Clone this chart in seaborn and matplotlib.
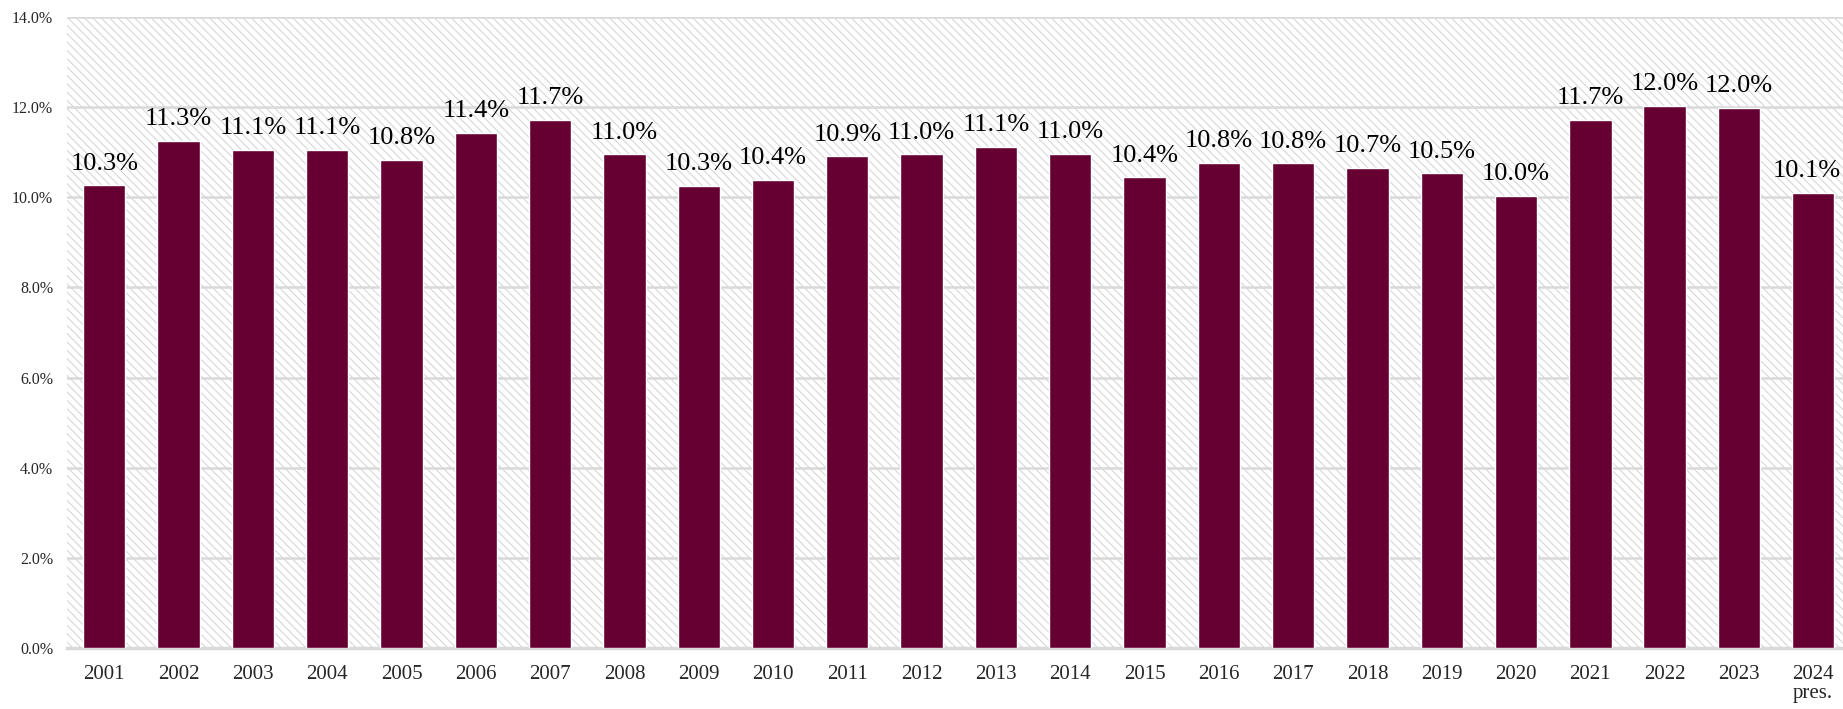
import matplotlib
matplotlib.use("Agg")
import matplotlib.pyplot as plt
import seaborn as sns
from matplotlib.patches import Rectangle
from matplotlib.ticker import FuncFormatter

# --- Datos ---
anios = ["2001", "2002", "2003", "2004", "2005", "2006", "2007", "2008",
         "2009", "2010", "2011", "2012", "2013", "2014", "2015", "2016",
         "2017", "2018", "2019", "2020", "2021", "2022", "2023", "2024\npres."]
valores = [10.27, 11.26, 11.06, 11.06, 10.83, 11.43, 11.72, 10.96,
           10.26, 10.39, 10.91, 10.96, 11.12, 10.97, 10.44, 10.77,
           10.76, 10.66, 10.53, 10.04, 11.72, 12.03, 11.99, 10.10]
ticks_y = [0, 2, 4, 6, 8, 10, 12, 14]

COLOR_BARRA = "#660033"
COLOR_GRID = "#d9d9d9"

sns.set_style("white")
plt.rcParams["font.family"] = ["Liberation Serif", "DejaVu Serif"]
plt.rcParams["hatch.linewidth"] = 0.7

fig = plt.figure(figsize=(18.43, 7.09), dpi=100)
ax = fig.add_axes([0.0364, 0.086, 0.9636, 0.890])

# fondo rayado
fondo = Rectangle((0, 0), 1, 1, transform=ax.transAxes, facecolor="white",
                  edgecolor="#d2d2d2", hatch="\\\\\\\\", linewidth=0, zorder=0)
ax.add_patch(fondo)

sns.barplot(x=anios, y=valores, color=COLOR_BARRA, saturation=1, width=0.57,
            ax=ax, zorder=3)

for i, v in enumerate(valores):
    # la ultima etiqueta se corre un poco para que no se corte en el borde
    dx = -5 if i == len(valores) - 1 else 0
    ax.annotate(f"{v:.1f}%", (i, v), xytext=(dx, 7.5), textcoords="offset points",
                ha="center", va="bottom", fontsize=19, color="black", zorder=4)

ax.set_ylim(0, 14)
ax.set_xlim(-0.5, 23.4)
ax.set_yticks(ticks_y)
ax.yaxis.set_major_formatter(FuncFormatter(lambda y, _: f"{y:.1f}%"))
ax.grid(axis="y", color=COLOR_GRID, linewidth=1.8, zorder=1)
ax.set_axisbelow(True)
for s in ["top", "right", "left"]:
    ax.spines[s].set_visible(False)
ax.spines["bottom"].set_color(COLOR_GRID)
ax.spines["bottom"].set_linewidth(2.5)
ax.tick_params(axis="y", length=0, pad=10, labelsize=11.5)
ax.tick_params(axis="x", length=0, pad=12, labelsize=15)
ax.set_xlabel("")
ax.set_ylabel("")
for lbl in ax.get_xticklabels():
    lbl.set_linespacing(1.0)

plt.savefig("out.png", dpi=100)
plt.close()
